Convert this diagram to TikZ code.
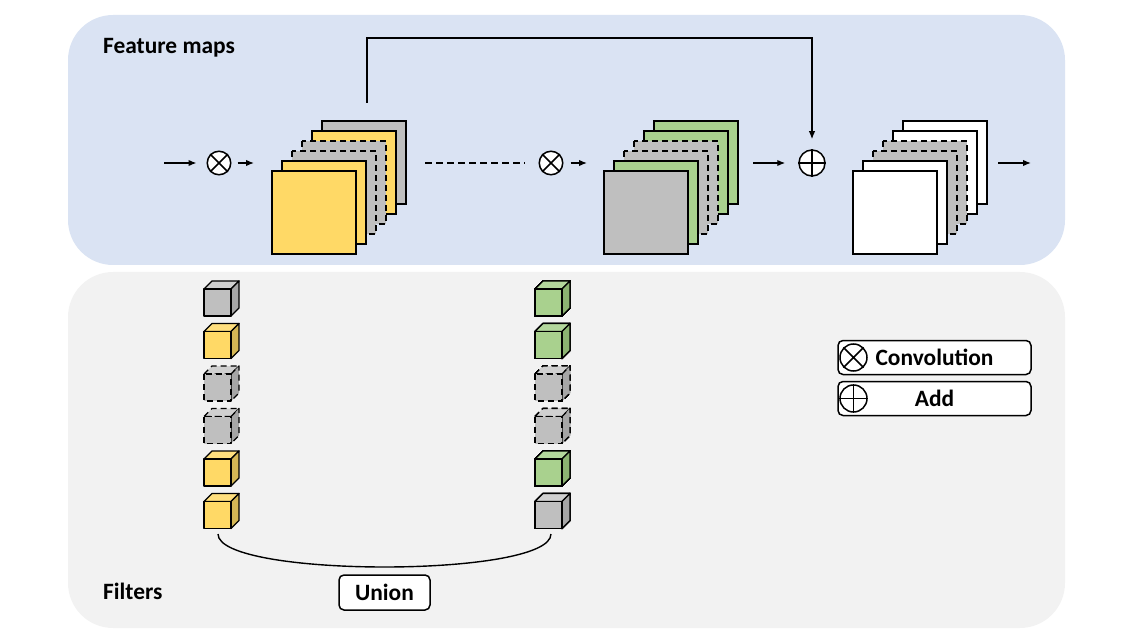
\documentclass[tikz,border=0pt]{standalone}
\usepackage{fontspec}
\usetikzlibrary{arrows.meta}
\setmainfont{Carlito}
\definecolor{mapsbg}{HTML}{DAE3F3}
\definecolor{filtbg}{HTML}{F2F2F2}
\definecolor{fyellow}{HTML}{FFD966}
\definecolor{fyellowtop}{HTML}{FFDF7E}
\definecolor{fyellowside}{HTML}{D4B655}
\definecolor{fgreen}{HTML}{A9D18E}
\definecolor{fgreentop}{HTML}{B3D79C}
\definecolor{fgreenside}{HTML}{8CB472}
\definecolor{fgray}{HTML}{BFBFBF}
\definecolor{fgraytop}{HTML}{D0D0D0}
\definecolor{fgrayside}{HTML}{A6A6A6}
\tikzset{
  panel/.style={rounded corners=45bp,draw=none},
  sheet/.style={draw=black,line width=1.8bp},
  dsh/.style={dash pattern=on 6bp off 4bp},
  cube/.style={draw=black,line width=1.4bp,line join=round},
  op/.style={circle,draw,line width=1.5bp,minimum size=23.5bp,inner sep=0pt,fill=white},
  legop/.style={circle,draw,line width=1.5bp,minimum size=27bp,inner sep=0pt},
  tag/.style={draw,line width=1.5bp,rounded corners=5bp,fill=white,inner sep=0pt},
  lbl/.style={font=\fontsize{23.5}{27}\selectfont\bfseries},
  flow/.style={-{Latex[length=8bp,width=6.5bp]},line width=1.4bp},
}
% one stack of feature maps, back sheet first
\newcommand{\mapstack}[3]{%
  \foreach \i/\c/\s in {#3}
    \draw[sheet,fill=\c,\s] (#1+10*\i,#2-10*\i) rectangle +(84,83);%
}
% one filter cube: x, y, front, top, side, line style
\newcommand{\filtercube}[6]{%
  \draw[cube,fill=#4,#6] (#1,#2) -- ++(8,-8) -- ++(27,0) -- ++(-8,8) -- cycle;
  \draw[cube,fill=#5,#6] (#1+27,#2) -- ++(8,-8) -- ++(0,27) -- ++(-8,8) -- cycle;
  \draw[cube,fill=#3,#6] (#1,#2) rectangle +(27,27);%
}
\newcommand{\otimesmark}[1]{\draw[line width=1.5bp] (#1.north west) -- (#1.south east) (#1.north east) -- (#1.south west);}
\newcommand{\oplusmark}[1]{\draw[line width=1.5bp] (#1.north) -- (#1.south) (#1.west) -- (#1.east);}
\begin{document}
\begin{tikzpicture}[x=1bp,y=-1bp]
\useasboundingbox (0,0) rectangle (1134,643);
%% panels
\fill[panel,mapsbg] (68,15) rectangle (1065,265);
\fill[panel,filtbg] (68,272) rectangle (1065,628);
\node[lbl,anchor=west,inner sep=0pt] (maps) at (103,48) {Feature maps};
\node[lbl,anchor=west,inner sep=0pt] (filters) at (103,591) {Filters};
%% feature map stacks
\mapstack{272}{171}{5/fgray/solid,4/fyellow/solid,3/fgray/dsh,2/fgray/dsh,1/fyellow/solid,0/fyellow/solid}
\mapstack{604}{171}{5/fgreen/solid,4/fgreen/solid,3/fgray/dsh,2/fgray/dsh,1/fgreen/solid,0/fgray/solid}
\mapstack{853}{171}{5/white/solid,4/white/solid,3/fgray/dsh,2/fgray/dsh,1/white/solid,0/white/solid}
%% operators and flow
\coordinate (in) at (164,163);
\node[op] (conv1) at (219,163) {};
\otimesmark{conv1}
\coordinate (c1end) at (254,163);
\coordinate (gap1) at (425,163);
\coordinate (gap2) at (525,163);
\node[op] (conv2) at (551,163) {};
\otimesmark{conv2}
\coordinate (c2end) at (587,163);
\coordinate (s2out) at (753,163);
\node[op,minimum size=26bp] (add) at (812,163) {};
\oplusmark{add}
\coordinate (out1) at (998,163);
\coordinate (out2) at (1031,163);
\coordinate (skip) at (367,103);
\coordinate (skiptop) at (367,38);
\draw[flow,shorten >=10bp] (in) -- (conv1);
\draw[flow,shorten <=6bp] (conv1) -- (c1end);
\draw[line width=1.4bp,dash pattern=on 7bp off 4bp] (gap1) -- (gap2);
\draw[flow,shorten <=7bp] (conv2) -- (c2end);
\draw[flow,shorten >=13bp] (s2out) -- (add);
\draw[flow,shorten >=10bp] (skip) -- (skiptop) -| (add);
\draw[flow] (out1) -- (out2);
%% filters
\foreach \r/\f/\t/\sd/\s in {0/fgray/fgraytop/fgrayside/solid,1/fyellow/fyellowtop/fyellowside/solid,2/fgray/fgraytop/fgrayside/dsh,3/fgray/fgraytop/fgrayside/dsh,4/fyellow/fyellowtop/fyellowside/solid,5/fyellow/fyellowtop/fyellowside/solid}
  \filtercube{204}{289+42.5*\r}{\f}{\t}{\sd}{\s}
\foreach \r/\f/\t/\sd/\s in {0/fgreen/fgreentop/fgreenside/solid,1/fgreen/fgreentop/fgreenside/solid,2/fgray/fgraytop/fgrayside/dsh,3/fgray/fgraytop/fgrayside/dsh,4/fgreen/fgreentop/fgreenside/solid,5/fgray/fgraytop/fgrayside/solid}
  \filtercube{535}{289+42.5*\r}{\f}{\t}{\sd}{\s}
\coordinate (arcL) at (218,534);
\coordinate (arcR) at (551,534);
\draw[line width=1.4bp] (arcL) .. controls (218,578) and (551,578) .. (arcR);
\node[tag,lbl,minimum width=91bp,minimum height=35bp] (union) at (384.5,592.5) {Union};
%% legend
\node[tag,lbl,minimum width=193bp,minimum height=34bp] (legconv) at (934.5,357.5) {Convolution};
\node[legop] (convsym) at (853.5,357.5) {};
\otimesmark{convsym}
\node[tag,lbl,minimum width=193bp,minimum height=34bp] (legadd) at (934.5,398.5) {Add};
\node[legop] (addsym) at (853.5,398.5) {};
\oplusmark{addsym}
\end{tikzpicture}
\end{document}
